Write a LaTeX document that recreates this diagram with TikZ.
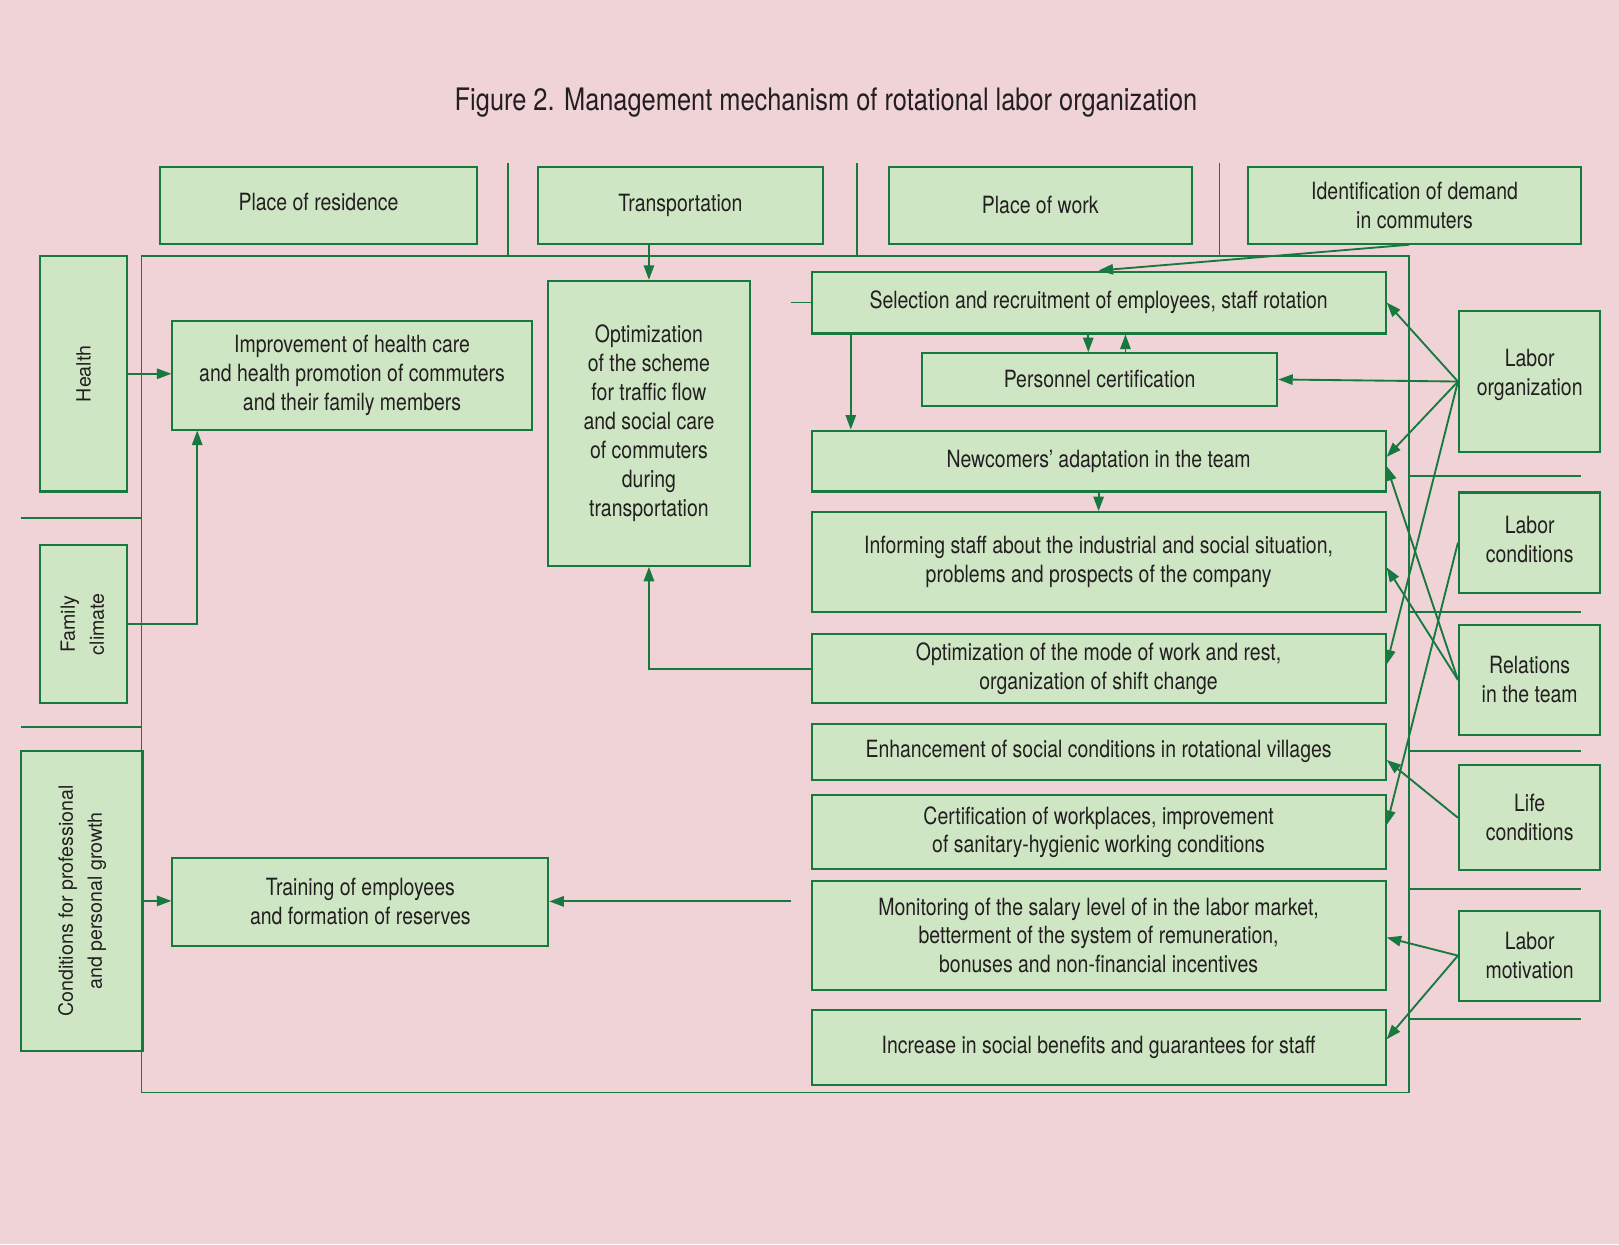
\documentclass[tikz,border=0pt]{standalone}
\usepackage{fontspec}
\setmainfont[FakeStretch=0.82]{TeX Gyre Heros}
\newfontfamily\wideheros{TeX Gyre Heros}
\usepackage{graphicx}
\usepackage{tikz}
\usetikzlibrary{arrows.meta,calc}
\definecolor{blush pink}{rgb}{0.9373, 0.8275, 0.8392}
\definecolor{pale mint}{rgb}{0.8118, 0.9020, 0.7725}
\definecolor{leaf green}{rgb}{0.0902, 0.4745, 0.2471}
\definecolor{ink}{rgb}{0.1373, 0.1216, 0.1255}

\tikzset{
	greenbox/.style={draw=leaf green, fill=pale mint, line width=2pt, inner sep=0pt,
		align=center, text=ink, font=\fontsize{23}{28}\selectfont},
	sidebox/.style={greenbox, font=\wideheros\fontsize{19}{28}\selectfont},
	link/.style={draw=leaf green, line width=1.8pt},
	arr/.style={link, -{Triangle[length=14pt, width=10pt]}}
}

\begin{document}
\begin{tikzpicture}[x=1pt, y=-1pt]
			% background and title
			\fill[blush pink] (0,0) rectangle (1568,1205);
			\node[text=ink, font=\fontsize{30}{36}\selectfont] (title) at (800,99)
				{Figure 2. Management mechanism of rotational labor organization};
			% top row
			\node[greenbox, minimum width=307pt, minimum height=74pt, text depth=8pt] (residence) at (308.5,199) {Place of residence};
			\node[greenbox, minimum width=276pt, minimum height=74pt] (transport) at (659,199) {Transportation};
			\node[greenbox, minimum width=293pt, minimum height=74pt] (workplace) at (1007.5,199) {Place of work};
			\node[greenbox, minimum width=322pt, minimum height=74pt] (demand) at (1370,199) {Identification of demand\\in commuters};
			% frame and separators
			\draw[link]
				(137,248) rectangle (1365,1058)
				(492,158) -- (492,248)
				(830,158) -- (830,248)
				(1181,158) -- (1181,248)
				(20,502) -- (137,502)
				(20,704) -- (137,704);
			\foreach \y in {461,593,727,861,987}
				\draw[link] (1365,\y) -- (1531,\y);
			% left column
			\node[sidebox, minimum width=84pt, minimum height=228pt] (health) at (81,362) {\rotatebox{90}{Health}};
			\node[sidebox, minimum width=84pt, minimum height=153pt] (family) at (81,604.5)
				{\rotatebox{90}{\begin{tabular}{@{}c@{}}Family\\climate\end{tabular}}};
			\node[sidebox, minimum width=118pt, minimum height=291pt] (growth) at (79,872.5)
				{\rotatebox{90}{\begin{tabular}{@{}c@{}}Conditions for professional\\and personal growth\end{tabular}}};
			% inner left
			\node[greenbox, minimum width=348pt, minimum height=105pt] (healthcare) at (341,363.5)
				{Improvement of health care\\and health promotion of commuters\\and their family members};
			\node[greenbox, minimum width=195pt, minimum height=276pt] (traffic) at (628.5,410)
				{Optimization\\of the scheme\\for traffic flow\\and social care\\of commuters\\during\\transportation};
			\node[greenbox, minimum width=364pt, minimum height=85pt] (training) at (349,873.5)
				{Training of employees\\and formation of reserves};
			% right column of measures
			\node[greenbox, minimum width=556pt, minimum height=60pt] (select) at (1064,293)
				{Selection and recruitment of employees, staff rotation};
			\node[greenbox, minimum width=344pt, minimum height=51pt] (certif) at (1065,367.5)
				{Personnel certification};
			\node[greenbox, minimum width=556pt, minimum height=59pt] (newcomers) at (1064,446.5)
				{Newcomers’ adaptation in the team};
			\node[greenbox, minimum width=556pt, minimum height=97pt] (inform) at (1064,544.5)
				{Informing staff about the industrial and social situation,\\problems and prospects of the company};
			\node[greenbox, minimum width=556pt, minimum height=67pt] (mode) at (1064,647.5)
				{Optimization of the mode of work and rest,\\organization of shift change};
			\node[greenbox, minimum width=556pt, minimum height=54pt] (villages) at (1064,728)
				{Enhancement of social conditions in rotational villages};
			\node[greenbox, minimum width=556pt, minimum height=72pt] (workcert) at (1064,806)
				{Certification of workplaces, improvement\\of sanitary-hygienic working conditions};
			\node[greenbox, minimum width=556pt, minimum height=106pt] (salary) at (1064,906)
				{Monitoring of the salary level of in the labor market,\\betterment of the system of remuneration,\\bonuses and non-financial incentives};
			\node[greenbox, minimum width=556pt, minimum height=73pt] (benefits) at (1064,1014.5)
				{Increase in social benefits and guarantees for staff};
			% factors on the right
			\node[greenbox, minimum width=137pt, minimum height=137pt, text depth=17pt] (laborg) at (1481.5,369.5) {Labor\\organization};
			\node[greenbox, minimum width=137pt, minimum height=97pt, text depth=6pt] (labcond) at (1481.5,525.5) {Labor\\conditions};
			\node[greenbox, minimum width=137pt, minimum height=107pt] (relations) at (1481.5,658.5) {Relations\\in the team};
			\node[greenbox, minimum width=137pt, minimum height=102pt] (life) at (1481.5,792) {Life\\conditions};
			\node[greenbox, minimum width=137pt, minimum height=87pt] (motiv) at (1481.5,925.5) {Labor\\motivation};
			% connectors on the left
			\coordinate (selstub) at (766,293);
			\coordinate (salstub) at (766,873);
			\draw[arr] (health.east) -- (health.east -| healthcare.west);
			\draw[arr] (family.east) -| ($(healthcare.south west)+(25,0)$);
			\draw[arr] (growth.east) -- (growth.east -| training.west);
			\draw[arr] (transport.south -| traffic.north) -- (traffic.north);
			\draw[arr] (mode.west) -| (traffic.south);
			\draw[link] (selstub) -- (selstub -| select.west);
			\draw[arr] (salstub) -- (salstub -| training.east);
			% connectors in the column
			\draw[arr] ([xshift=-5pt]demand.south) -- (select.north);
			\draw[arr] ([xshift=-11pt]certif.north |- select.south) -- ([xshift=-11pt]certif.north);
			\draw[arr] ([xshift=25pt]certif.north) -- ([xshift=25pt]certif.north |- select.south);
			\draw[arr] ([xshift=39pt]select.south west) -- ([xshift=39pt]newcomers.north west);
			\draw[arr] (newcomers.south) -- (inform.north);
			% connectors from the factors
			\draw[arr] (laborg.west) -- (select.east);
			\draw[arr] (laborg.west) -- (certif.east);
			\draw[arr] (laborg.west) -- ([yshift=4pt]newcomers.east);
			\draw[arr] (laborg.west) -- ([yshift=4pt]mode.east);
			\draw[arr] (labcond.west) -- ([yshift=7pt]workcert.east);
			\draw[arr] (relations.west) -- ([yshift=-5pt]newcomers.east);
			\draw[arr] (relations.west) -- ([yshift=-5pt]inform.east);
			\draw[arr] (life.west) -- ([yshift=-8pt]villages.east);
			\draw[arr] (motiv.west) -- ([yshift=-2pt]salary.east);
			\draw[arr] (motiv.west) -- ([yshift=8pt]benefits.east);
		\end{tikzpicture}
\end{document}
